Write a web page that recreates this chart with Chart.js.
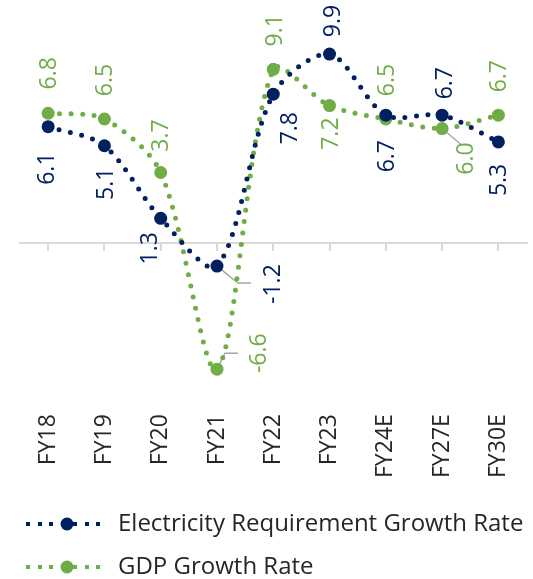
<!DOCTYPE html>
<html>
<head>
<meta charset="utf-8">
<script src="https://cdn.jsdelivr.net/npm/chart.js@4.4.0/dist/chart.umd.min.js"></script>
<style>
  html, body { margin: 0; padding: 0; background: #fff; }
  #wrap { width: 533px; height: 579px; }
</style>
</head>
<body>
<div id="wrap"><canvas id="growthChart"></canvas></div>
<script>
// Veriler
const years = ['FY18', 'FY19', 'FY20', 'FY21', 'FY22', 'FY23', 'FY24E', 'FY27E', 'FY30E'];
const electricity = [6.1, 5.1, 1.3, -1.2, 7.8, 9.9, 6.7, 6.7, 5.3];
const gdp = [6.8, 6.5, 3.7, -6.6, 9.1, 7.2, 6.5, 6.0, 6.7];

const navy = '#002060';
const green = '#70AD47';
const FONT = '"Open Sans", sans-serif';

// where each value label sits relative to its point (px), plus callout lines
const elecLabelPos = [[-1, 42], [2, 38], [-10, 30], [56, 18], [17, 34], [4, -33], [2, 41], [3, -32], [1, 38]];
const gdpLabelPos = [[1, -40], [1, -39], [1, -37], [42, -16], [2, -39], [2, 28], [2, -39], [24, 30], [1, -39]];
const elecLeaders = { 3: [[21, 17], [34, 17]] };
const gdpLeaders = { 3: [[8, -16], [21, -16]], 7: [[19, 16]] };

// legend swatch: square dotted line with a marker in the middle
function swatch(color, w) {
    const c = document.createElement('canvas');
    c.width = w;
    c.height = 16;
    const g = c.getContext('2d');
    g.fillStyle = color;
    for (let x = 2; x < 80; x += 11.7) g.fillRect(Math.round(x), 6, 4, 4);
    g.beginPath();
    g.arc(43, 8, 6.5, 0, Math.PI * 2);
    g.fill();
    return c;
}

const valueLabels = {
    id: 'valueLabels',
    beforeDatasetsDraw(chart) {
        const ctx = chart.ctx;
        chart.data.datasets.forEach((ds, di) => {
            chart.getDatasetMeta(di).data.forEach((pt, i) => {
                const lead = ds.leaders[i];
                if (!lead) return;
                ctx.save();
                ctx.strokeStyle = '#a6a6a6';
                ctx.lineWidth = 1.5;
                ctx.beginPath();
                ctx.moveTo(pt.x, pt.y);
                lead.forEach(p => ctx.lineTo(pt.x + p[0], pt.y + p[1]));
                ctx.stroke();
                ctx.restore();
            });
        });
    },
    afterDatasetsDraw(chart) {
        const ctx = chart.ctx;
        chart.data.datasets.forEach((ds, di) => {
            chart.getDatasetMeta(di).data.forEach((pt, i) => {
                const [dx, dy] = ds.labelPos[i];
                ctx.save();
                ctx.translate(pt.x + dx, pt.y + dy);
                ctx.rotate(-Math.PI / 2);
                ctx.font = '23px ' + FONT;
                ctx.fillStyle = ds.borderColor;
                ctx.textAlign = 'center';
                ctx.textBaseline = 'middle';
                ctx.fillText(ds.data[i].toFixed(1), 0, 0);
                ctx.restore();
            });
        });
    }
};

const ctx = document.getElementById('growthChart').getContext('2d');
new Chart(ctx, {
    type: 'line',
    data: {
        labels: years,
        datasets: [
            {
                label: 'Electricity Requirement Growth Rate',
                data: electricity,
                borderColor: navy,
                backgroundColor: navy,
                borderWidth: 5,
                borderDash: [0, 11.5],
                borderCapStyle: 'round',
                tension: 0.3,
                pointRadius: 6.5,
                pointBorderWidth: 0,
                labelPos: elecLabelPos,
                leaders: elecLeaders,
                swatch: swatch(navy, 82)
            },
            {
                label: 'GDP Growth Rate',
                data: gdp,
                borderColor: green,
                backgroundColor: green,
                borderWidth: 5,
                borderDash: [0, 11.5],
                borderCapStyle: 'round',
                tension: 0.3,
                pointRadius: 6.5,
                pointBorderWidth: 0,
                labelPos: gdpLabelPos,
                leaders: gdpLeaders,
                swatch: swatch(green, 82)
            }
        ]
    },
    options: {
        responsive: true,
        maintainAspectRatio: false,
        animation: false,
        layout: { padding: { left: 5, right: 6, top: 0, bottom: -10 } },
        plugins: {
            tooltip: { enabled: false },
            legend: {
                position: 'bottom',
                align: 'start',
                labels: {
                    usePointStyle: true,
                    pointStyleWidth: 82,
                    boxHeight: 16,
                    padding: 19,
                    color: '#262626',
                    font: { size: 24, family: FONT },
                    generateLabels(chart) {
                        return chart.data.datasets.map((ds, i) => ({
                            text: ds.label,
                            pointStyle: ds.swatch,
                            fillStyle: ds.borderColor,
                            strokeStyle: ds.borderColor,
                            lineWidth: 0,
                            hidden: false,
                            datasetIndex: i,
                            fontColor: '#262626'
                        }));
                    }
                }
            }
        },
        scales: {
            x: {
                type: 'category',
                position: { y: 0 },
                offset: true,
                grid: {
                    display: true,
                    drawOnChartArea: false,
                    drawTicks: true,
                    tickLength: 7,
                    color: '#d9d9d9',
                    lineWidth: 2
                },
                border: { display: true, color: '#d9d9d9', width: 2 },
                ticks: { display: false }
            },
            x2: {
                type: 'category',
                labels: years,
                position: 'bottom',
                offset: true,
                grid: { display: false },
                border: { display: false },
                ticks: {
                    autoSkip: false,
                    minRotation: 90,
                    maxRotation: 90,
                    padding: 3,
                    color: '#262626',
                    font: { size: 23, family: FONT }
                },
                afterFit(scale) { scale.height += 12; }
            },
            y: {
                display: true,
                min: -8.38,
                max: 12.39,
                grid: { display: false },
                border: { display: false },
                ticks: { display: false },
                afterFit(scale) { scale.width = 15; }
            }
        }
    },
    plugins: [valueLabels]
});
</script>
</body>
</html>
